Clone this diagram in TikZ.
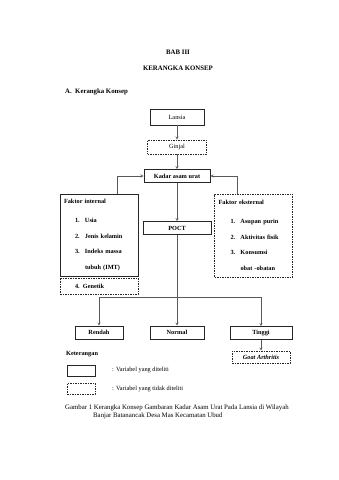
\documentclass[tikz,border=0pt]{standalone}
\usepackage{fontspec}
\setmainfont{Liberation Serif}
\usepackage{tikz}
\usetikzlibrary{shapes.geometric, arrows}
\newcommand{\teksutama}{\fontsize{6.8}{8}\selectfont}
\newcommand{\tekskotak}{\fontsize{6.3}{7.5}\selectfont}
\newcommand{\butir}[3]{\hspace*{#1}\makebox[10pt][l]{#2}#3}
\tikzstyle{solidbox} = [rectangle, draw=black!85, line width=0.6pt, minimum height=13pt, inner sep=1pt, text centered, font=\tekskotak]
\tikzstyle{dashbox} = [solidbox, dash pattern=on 1.5pt off 1pt]
\tikzstyle{faktor} = [minimum width=78pt, minimum height=82pt, inner sep=4pt, text width=70pt, align=left, font=\tekskotak\bfseries]
\tikzstyle{plaintext} = [inner sep=0pt, font=\teksutama]
\tikzstyle{arrow} = [->, >=stealth, draw=black!65, line width=0.45pt]

\begin{document}
\begin{tikzpicture}[x=1pt, y=1pt, node distance=30pt]
  \fill[white] (0,0) rectangle (339,-480);
  \useasboundingbox (0,0) rectangle (339,-480);

  \node (bab) [plaintext, font=\teksutama\bfseries] at (178,-52) {BAB III};
  \node (judul) [plaintext, font=\teksutama\bfseries] at (178,-68) {KERANGKA KONSEP};
  \node (subjudul) [plaintext, anchor=west, font=\teksutama\bfseries] at (65,-92) {A.\enspace Kerangka Konsep};

  \node (lansia) [solidbox, minimum width=54pt, minimum height=16pt] at (177,-117) {Lansia};
  \node (ginjal) [dashbox, below of=lansia, minimum width=59pt, minimum height=14pt] {Ginjal};
  \node (kadar) [solidbox, node distance=29pt, below of=ginjal, minimum width=66pt, font=\tekskotak\bfseries] {Kadar asam urat};
  \node (poct) [solidbox, node distance=52pt, below of=kadar, minimum width=68pt, font=\tekskotak\bfseries] {POCT};

  \node (internal) [solidbox, faktor] at (99,-235) {Faktor internal\\[12pt]
    \butir{11pt}{1.}{Usia}\\[8.5pt]
    \butir{11pt}{2.}{Jenis kelamin}\\[7.5pt]
    \butir{11pt}{3.}{Indeks massa}\\[8.5pt]
    \butir{11pt}{}{tubuh (IMT)}};
  \node (genetik) [dashbox, minimum width=78pt, minimum height=16pt, inner sep=4pt, text width=70pt, align=left, font=\tekskotak\bfseries] at (99,-286) {\hspace*{11pt}4. Genetik};
  \node (eksternal) [dashbox, faktor, minimum width=77pt, minimum height=83pt] at (253.5,-235.5) {Faktor eksternal\\[12pt]
    \butir{12pt}{1.}{Asupan purin}\\[8.5pt]
    \butir{12pt}{2.}{Aktivitas fisik}\\[7.5pt]
    \butir{12pt}{3.}{Konsumsi}\\[8.5pt]
    \butir{12pt}{}{obat -obatan}};

  \coordinate (cabang) at (177,-297);
  \node (rendah) [solidbox, minimum width=48pt, font=\tekskotak\bfseries] at (99,-332.5) {Rendah};
  \node (normal) [solidbox, minimum width=54pt, font=\tekskotak\bfseries] at (177,-332.5) {Normal};
  \node (tinggi) [solidbox, minimum width=62pt, font=\tekskotak\bfseries] at (261,-333) {Tinggi};
  \node (goat) [dashbox, minimum width=58pt, minimum height=12pt, font=\tekskotak\bfseries\itshape] at (261,-357) {Goat Arthritis};

  \node (keterangan) [plaintext, anchor=west, font=\tekskotak\bfseries] at (66,-354) {Keterangan};
  \node (legpadat) [solidbox, minimum width=28pt, minimum height=11pt] at (81,-370.5) {};
  \node (legputus) [dashbox, minimum width=28pt, minimum height=11pt] at (81,-388.5) {};
  \node (ketpadat) [plaintext, anchor=west, font=\tekskotak] at (112,-370) {: Variabel yang diteliti};
  \node (ketputus) [plaintext, anchor=west, font=\tekskotak] at (112,-389) {: Variabel yang tidak diteliti};

  \node (gambar) [plaintext, anchor=north west, align=left] at (65,-405) {Gambar 1 Kerangka Konsep Gambaran Kadar Asam Urat Pada Lansia di Wilayah\\
    \hspace*{28pt}Banjar Batanancak Desa Mas Kecamatan Ubud};

  \draw [arrow] (lansia) -- (ginjal);
  \draw [arrow] (ginjal) -- (kadar);
  \draw [arrow] ([xshift=18pt]internal.north) |- (kadar.west);
  \draw [arrow] ([xshift=-16pt]eksternal.north) |- (kadar.east);
  \draw [arrow] (kadar) -- (poct);
  \draw [draw=black!65, line width=0.45pt] (poct.south) -- (cabang);
  \draw [arrow] (cabang) -| (rendah.north);
  \draw [arrow] (cabang) -- (normal.north);
  \draw [arrow] (cabang) -| (tinggi.north);
  \draw [arrow] (tinggi) -- (goat);
\end{tikzpicture}
\end{document}
